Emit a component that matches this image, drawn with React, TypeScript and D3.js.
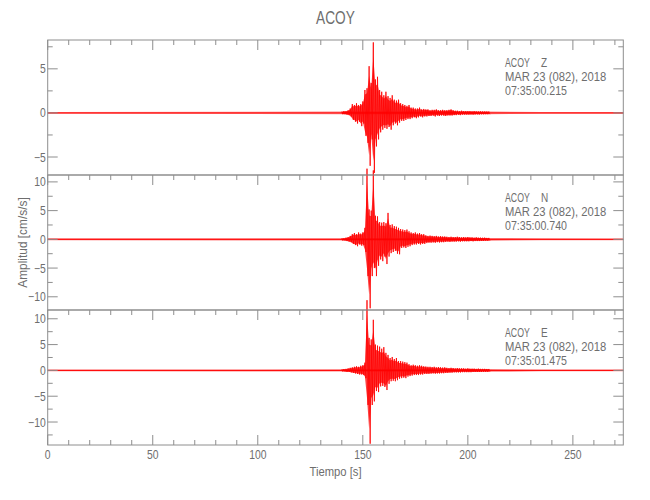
import * as d3 from "d3";

// Station / header text
const STATION = "ACOY";
const DATE_LABEL = "MAR 23 (082), 2018";
const COMPONENTS = ["Z", "N", "E"];
const START_TIMES = ["07:35:00.215", "07:35:00.740", "07:35:01.475"];

// Axes
const X_DOMAIN: [number, number] = [0, 274];
const X_TICKS = [0, 50, 100, 150, 200, 250];
const Y_DOMAINS: [number, number][] = [
	[-7.04, 8.27],
	[-12.3, 11.2],
	[-14.45, 11.7],
];
const Y_TICKS = [
	[-5, 0, 5],
	[-10, -5, 0, 5, 10],
	[-10, -5, 0, 5, 10],
];

// Background noise level (amplitude) at a few times
const NOISE_T = [0, 140, 210, 235, 274];
const Z_NOISE = [0.1, 0.15, 0.15, 0.1, 0.1];
const N_NOISE = [0.17, 0.2, 0.25, 0.17, 0.15];
const E_NOISE = [0.17, 0.2, 0.28, 0.18, 0.17];

// Event: peak max / min per 1 s bin, starting at 140 s
const BIN_START = 140;
const Z_MAX = [
	0.15, 0.2, 0.2, 0.3, 0.5, 1.0, 0.9, 1.1, 0.9, 1.0,
	1.3, 2.6, 2.8, 5.3, 3.4, 8.0, 3.8, 4.1, 2.6, 2.4,
	2.0, 2.4, 1.9, 1.7, 2.0, 1.5, 1.4, 1.5, 1.1, 1.0,
	0.9, 0.8, 0.9, 0.6, 0.6, 0.5, 0.5, 0.6, 0.4, 0.45,
	0.4, 0.4, 0.3, 0.35, 0.35, 0.4, 0.3, 0.3, 0.35, 0.3,
	0.3, 0.35, 0.4, 0.3, 0.25, 0.25, 0.2, 0.25, 0.2, 0.2,
	0.2, 0.2, 0.18, 0.2, 0.18, 0.17, 0.18, 0.16, 0.16, 0.15, 0.15,
];
const Z_MIN = [
	-0.15, -0.15, -0.2, -0.25, -0.4, -0.8, -1.0, -1.2, -1.0, -1.5,
	-1.2, -2.6, -3.4, -6.0, -3.0, -6.8, -3.8, -3.0, -2.2, -1.9,
	-1.7, -1.8, -1.6, -1.9, -1.4, -1.2, -1.4, -1.1, -0.9, -0.9,
	-0.8, -0.7, -0.7, -0.6, -0.5, -0.6, -0.5, -0.4, -0.5, -0.4,
	-0.4, -0.35, -0.35, -0.3, -0.4, -0.3, -0.35, -0.3, -0.3, -0.35,
	-0.3, -0.3, -0.3, -0.25, -0.25, -0.2, -0.25, -0.2, -0.2, -0.2,
	-0.2, -0.18, -0.2, -0.18, -0.17, -0.18, -0.16, -0.16, -0.15, -0.15, -0.15,
];
const N_MAX = [
	0.2, 0.2, 0.3, 0.4, 0.6, 0.9, 1.1, 0.9, 1.2, 1.0,
	1.2, 2.0, 12.3, 5.2, 5.0, 12.0, 4.1, 4.0, 3.0, 2.9,
	3.0, 2.8, 4.6, 2.5, 2.6, 2.3, 2.2, 2.0, 1.8, 1.7,
	1.6, 1.7, 1.4, 1.2, 1.1, 1.2, 1.0, 1.1, 0.9, 0.9,
	0.7, 0.6, 0.65, 0.6, 0.55, 0.6, 0.5, 0.55, 0.5, 0.5,
	0.45, 0.4, 0.45, 0.4, 0.4, 0.45, 0.4, 0.35, 0.4, 0.35,
	0.4, 0.35, 0.35, 0.3, 0.35, 0.3, 0.3, 0.28, 0.3, 0.25, 0.25,
];
const N_MIN = [
	-0.2, -0.2, -0.3, -0.4, -0.5, -0.8, -1.0, -1.2, -0.9, -1.1,
	-1.0, -2.2, -6.4, -12.0, -6.4, -5.0, -6.4, -4.6, -3.5, -3.8,
	-3.0, -4.3, -3.0, -2.4, -2.2, -2.0, -2.5, -2.6, -1.5, -1.4,
	-1.5, -1.3, -1.2, -1.0, -0.9, -0.9, -0.8, -0.9, -0.8, -0.8,
	-0.65, -0.6, -0.6, -0.55, -0.6, -0.5, -0.55, -0.5, -0.5, -0.45,
	-0.4, -0.45, -0.4, -0.4, -0.4, -0.35, -0.4, -0.35, -0.35, -0.35,
	-0.35, -0.3, -0.35, -0.3, -0.3, -0.3, -0.28, -0.28, -0.25, -0.25, -0.25,
];
const E_MAX = [
	0.2, 0.25, 0.3, 0.4, 0.5, 0.6, 0.7, 0.8, 0.7, 0.9,
	1.0, 1.5, 13.6, 6.3, 6.0, 9.8, 5.0, 4.8, 4.6, 4.2,
	4.5, 3.4, 3.0, 2.4, 2.6, 2.2, 2.4, 1.8, 1.8, 1.7,
	1.6, 1.5, 1.2, 1.0, 1.1, 1.0, 0.9, 1.0, 0.9, 0.8,
	0.75, 0.7, 0.7, 0.65, 0.7, 0.6, 0.65, 0.6, 0.55, 0.6,
	0.5, 0.45, 0.5, 0.45, 0.4, 0.45, 0.4, 0.4, 0.4, 0.35,
	0.4, 0.35, 0.35, 0.35, 0.3, 0.35, 0.3, 0.3, 0.3, 0.28, 0.28,
];
const E_MIN = [
	-0.2, -0.2, -0.3, -0.3, -0.4, -0.5, -0.6, -0.7, -0.8, -0.8,
	-0.9, -1.5, -6.7, -14.2, -6.7, -6.0, -4.0, -4.2, -3.1, -3.0,
	-3.2, -3.8, -2.6, -2.1, -2.0, -2.1, -1.9, -1.6, -1.5, -1.4,
	-1.5, -1.2, -1.1, -1.0, -0.9, -0.9, -0.9, -0.8, -0.8, -0.7,
	-0.7, -0.7, -0.65, -0.6, -0.65, -0.6, -0.6, -0.55, -0.55, -0.5,
	-0.5, -0.45, -0.45, -0.4, -0.4, -0.4, -0.4, -0.35, -0.35, -0.35,
	-0.35, -0.35, -0.3, -0.3, -0.3, -0.3, -0.3, -0.28, -0.28, -0.28, -0.28,
];

const SERIES = [
	{ max: Z_MAX, min: Z_MIN, noise: Z_NOISE },
	{ max: N_MAX, min: N_MIN, noise: N_NOISE },
	{ max: E_MAX, min: E_MIN, noise: E_NOISE },
];

const W = 650;
const H = 500;
const LEFT = 47.7;
const RIGHT = 623.3;
const TOP = 40;
const PANEL_H = 135;

const AXIS = "#8e8e8e";
const TEXT = "#6e6e6e";
const RED = "#ff0000";
const FONT = "'Liberation Sans', Arial, sans-serif";
const FS = 12.5;

const fmt = d3.format("d");

// narrow text, like the plotting package's stroke font
function T({
	x,
	y,
	sx = 0.83,
	anchor = "start",
	size = FS,
	children,
}: {
	x: number;
	y: number;
	sx?: number;
	anchor?: string;
	size?: number;
	children: any;
}) {
	return (
		<text
			transform={`translate(${x},${y}) scale(${sx},1)`}
			textAnchor={anchor}
			fontSize={size}
			fill={TEXT}
		>
			{children}
		</text>
	);
}

export default function App() {
	const x = d3.scaleLinear().domain(X_DOMAIN).range([LEFT, RIGHT]);
	const xMinor = d3.range(0, X_DOMAIN[1], 10);

	return (
		<svg
			width={W}
			height={H}
			style={{ position: "absolute", left: 0, top: 0, background: "#fff" }}
			fontFamily={FONT}
		>
			<T x={(LEFT + RIGHT) / 2} y={24} sx={0.72} size={19} anchor="middle">
				{STATION}
			</T>

			{SERIES.map((s, p) => {
				const top = TOP + p * PANEL_H;
				const bottom = top + PANEL_H;
				const y = d3.scaleLinear().domain(Y_DOMAINS[p]).range([bottom, top]);
				const minor = d3
					.range(Math.ceil(Y_DOMAINS[p][0] / 2.5) * 2.5, Y_DOMAINS[p][1], 2.5)
					.filter((v) => Math.abs(v % 5) > 0.01);

				const band = d3
					.area<number>()
					.x((_, i) => x(NOISE_T[i]))
					.y0((v) => y(-v))
					.y1((v) => y(v));

				// filled core of the trace
				const env = d3
					.area<number>()
					.x((_, i) => x(BIN_START + i))
					.y0((_, i) => y(s.min[i] * 0.8))
					.y1((v) => y(v * 0.8));

				const pts: [number, number][] = [];
				s.max.forEach((v, i) => {
					pts.push([BIN_START + i, v]);
					pts.push([BIN_START + i + 0.5, s.min[i]]);
				});
				const trace = d3
					.line<[number, number]>()
					.x((d) => x(d[0]))
					.y((d) => y(d[1]));

				return (
					<g key={p}>
						{/* waveform */}
						<path d={band(s.noise) || ""} fill={RED} opacity={0.5} />
						<line x1={x(X_DOMAIN[0])} x2={x(X_DOMAIN[1])} y1={y(0)} y2={y(0)} stroke={RED} strokeWidth={1} />
						<path d={env(s.max) || ""} fill={RED} opacity={0.75} />
						<path d={trace(pts) || ""} fill="none" stroke={RED} strokeWidth={0.9} strokeOpacity={0.9} />

						{/* frame */}
						<rect x={LEFT} y={top} width={RIGHT - LEFT} height={PANEL_H} fill="none" stroke={AXIS} strokeWidth={1} />

						{/* top x ticks (pointing down) */}
						{xMinor.map((t) => (
							<line
								key={"xt" + t}
								x1={x(t)}
								x2={x(t)}
								y1={top}
								y2={top + (t % 50 === 0 ? 10 : 5)}
								stroke={AXIS}
							/>
						))}
						{/* bottom x ticks on last panel */}
						{p === SERIES.length - 1 &&
							xMinor.map((t) => (
								<line
									key={"xb" + t}
									x1={x(t)}
									x2={x(t)}
									y1={bottom}
									y2={bottom - (t % 50 === 0 ? 10 : 5)}
									stroke={AXIS}
								/>
							))}

						{/* y ticks both sides */}
						{Y_TICKS[p].map((v) => (
							<g key={"ym" + v}>
								<line x1={LEFT} x2={LEFT + 10} y1={y(v)} y2={y(v)} stroke={AXIS} />
								<line x1={RIGHT} x2={RIGHT - 10} y1={y(v)} y2={y(v)} stroke={AXIS} />
								<T x={LEFT - 2} y={y(v) + 4.5} anchor="end">
									{fmt(v)}
								</T>
							</g>
						))}
						{minor.map((v) => (
							<g key={"yn" + v}>
								<line x1={LEFT} x2={LEFT + 5} y1={y(v)} y2={y(v)} stroke={AXIS} />
								<line x1={RIGHT} x2={RIGHT - 5} y1={y(v)} y2={y(v)} stroke={AXIS} />
							</g>
						))}

						{/* header */}
						<T x={505} y={top + 26.5} sx={0.7}>
							{STATION}
						</T>
						<T x={541} y={top + 26.5} sx={0.8}>
							{COMPONENTS[p]}
						</T>
						<T x={505} y={top + 40.5} sx={0.9}>
							{DATE_LABEL}
						</T>
						<T x={505} y={top + 54.5} sx={0.85}>
							{START_TIMES[p]}
						</T>
					</g>
				);
			})}

			{/* x tick labels */}
			{X_TICKS.map((t) => (
				<T key={"xl" + t} x={x(t)} y={458.5} anchor="middle">
					{fmt(t)}
				</T>
			))}
			<T x={(LEFT + RIGHT) / 2} y={476} sx={0.9} anchor="middle">
				Tiempo [s]
			</T>
			<text
				transform={`translate(27,${TOP + (PANEL_H * 3) / 2}) rotate(-90) scale(0.95,1)`}
				textAnchor="middle"
				fontSize={FS}
				fill={TEXT}
			>
				Amplitud [cm/s/s]
			</text>
		</svg>
	);
}
